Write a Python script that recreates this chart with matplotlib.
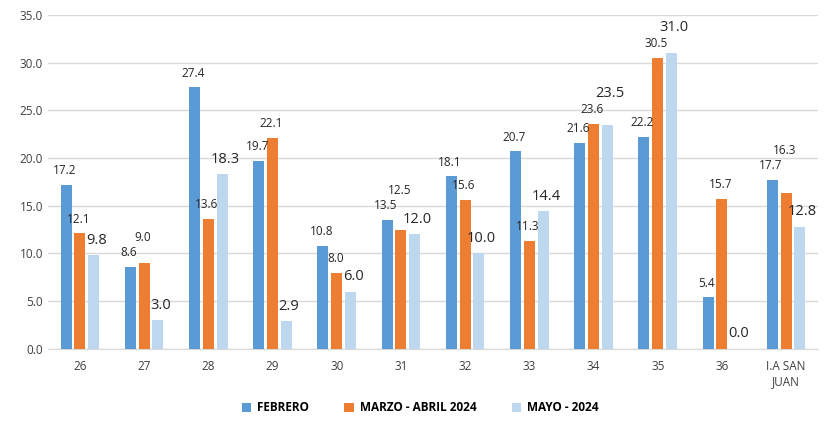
import numpy as np
import matplotlib
matplotlib.use('Agg')
import matplotlib.pyplot as plt

categories = ['26', '27', '28', '29', '30', '31', '32', '33', '34', '35', '36', 'I.A SAN\nJUAN']
febrero = [17.2, 8.6, 27.4, 19.7, 10.8, 13.5, 18.1, 20.7, 21.6, 22.2, 5.4, 17.7]
marzo_abril = [12.1, 9.0, 13.6, 22.1, 8.0, 12.5, 15.6, 11.3, 23.6, 30.5, 15.7, 16.3]
mayo = [9.8, 3.0, 18.3, 2.9, 6.0, 12.0, 10.0, 14.4, 23.5, 31.0, 0.0, 12.8]
series_names = ['FEBRERO', 'MARZO - ABRIL 2024', 'MAYO - 2024']

colors = ['#5B9BD5', '#ED7D31', '#BDD7EE']

plt.rcParams['font.family'] = ['Open Sans', 'DejaVu Sans']

fig = plt.figure(figsize=(8.24, 4.25), dpi=100)
ax = fig.add_axes([0.058, 0.179, 0.935, 0.786])

x = np.arange(len(categories))
w = 0.17
gap = 0.045
offsets = [-(w + gap), 0, w + gap]
label_sizes = [8.5, 8.5, 10.5]
label_dx = [-1, -1, 2]
all_vals = [febrero, marzo_abril, mayo]

for vals, name, col, off in zip(all_vals, series_names, colors, offsets):
    ax.bar(x + off, vals, width=w, color=col, label=name, zorder=3)

# value labels, staggered upward when neighbouring labels would collide
for i in range(len(categories)):
    prev_y = None
    for s in range(3):
        v = all_vals[s][i]
        ly = v + 0.8
        if prev_y is not None and abs(ly - prev_y) < 1.6:
            ly = prev_y + 1.6
        prev_y = ly
        ax.annotate(f'{v:.1f}', (x[i] + offsets[s], ly),
                    xytext=(label_dx[s], 0), textcoords='offset points',
                    ha='center', va='bottom', fontsize=label_sizes[s], color='#262626')

ax.set_ylim(0, 35)
ax.set_xlim(-0.5, len(categories) - 0.5)
ax.set_yticks(np.arange(0, 36, 5))
ax.set_yticklabels([f'{t:.1f}' for t in np.arange(0, 36, 5)])
ax.set_xticks(x)
ax.set_xticklabels(categories)
ax.tick_params(axis='both', length=0, labelsize=8.5, colors='#404040')
ax.tick_params(axis='x', pad=8)
ax.yaxis.grid(True, color='#D9D9D9', linewidth=1, zorder=0)
for s in ['top', 'right', 'left']:
    ax.spines[s].set_visible(False)
ax.spines['bottom'].set_color('#D9D9D9')

leg = fig.legend(loc='lower center', bbox_to_anchor=(0.51, 0.0), ncol=3, frameon=False,
                 prop={'weight': 'bold', 'size': 8.5}, handlelength=0.8, handleheight=0.8,
                 columnspacing=3.0, handletextpad=0.5)

fig.savefig('out.png', dpi=100)
